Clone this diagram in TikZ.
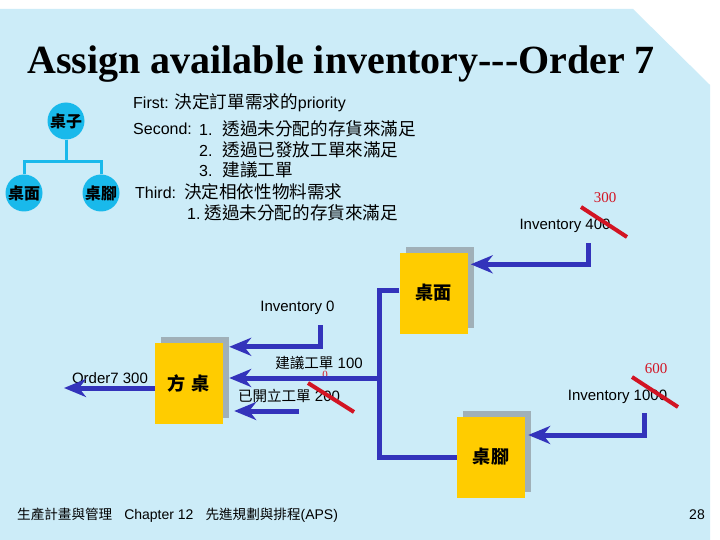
\documentclass[tikz,border=0pt]{standalone}
\usepackage{fontspec}
\setmainfont{Liberation Sans}
\newfontfamily\zhfont[Scale=1.1]{Noto Sans CJK TC}
\newfontfamily\zhsmall[Scale=0.97]{Noto Sans CJK TC}
\newfontfamily\titlefont{Liberation Serif}
\newcommand{\zh}[1]{{\zhfont #1}}
\newcommand{\zhs}[1]{{\zhsmall #1}}
\usetikzlibrary{arrows.meta,shadows}

\definecolor{bgblue}{RGB}{204,236,248}
\definecolor{boxyellow}{RGB}{255,204,0}
\definecolor{shadowgray}{RGB}{160,176,184}
\definecolor{flowblue}{RGB}{51,51,187}
\definecolor{strikered}{RGB}{210,20,35}
\definecolor{treecyan}{RGB}{25,185,235}

\begin{document}
\begin{tikzpicture}
  [x=1pt,y=-1pt,
   lbl/.style={inner sep=0pt,font=\fontsize{15}{17}\selectfont},
   txt/.style={inner sep=0pt,anchor=west,font=\fontsize{16}{18}\selectfont},
   redno/.style={inner sep=0pt,text=strikered,font=\titlefont\fontsize{15}{17}\selectfont},
   strike/.style={strikered,line width=4pt},
   part/.style={rectangle,fill=boxyellow,minimum width=68pt,minimum height=81pt,
     general shadow={fill=shadowgray,shadow xshift=6pt,shadow yshift=6pt},
     font=\zhfont\bfseries\fontsize{16.5}{19}\selectfont},
   flow/.style={flowblue,line width=5pt,-{Stealth[length=22pt,width=18pt,inset=7pt]}},
   pipe/.style={flowblue,line width=5pt},
   treenode/.style={circle,fill=treecyan,minimum size=37pt,inner sep=0pt,
     font=\zhfont\bfseries\fontsize{14.5}{16}\selectfont},
   treeline/.style={treecyan,line width=3pt}]

  % slide background
  \useasboundingbox (0,0) rectangle (720,540);
  \fill[white] (0,0) rectangle (720,540);
  \fill[bgblue] (0,9) -- (633,9) -- (710,85) -- (710,540) -- (0,540) -- cycle;

  \node[inner sep=0pt,anchor=base west,font=\titlefont\bfseries\fontsize{40}{44}\selectfont]
    (title) at (27,74) {Assign available inventory---Order 7};

  % product tree
  \node[treenode] (zi) at (66,121) {桌子};
  \node[treenode] (tm) at (24,193) {桌面};
  \node[treenode] (tj) at (101,193) {桌腳};
  \coordinate (fork) at (66,162);
  \draw[treeline] (zi) -- (fork);
  \foreach \to in {tm,tj}
    \draw[treeline] (fork) -| (\to);

  % rules
  \node[txt] (first)  at (133,103) {First: \zh{決定訂單需求的}priority};
  \node[txt] (second) at (133,129) {Second:};
  \node[txt] (s1)     at (199,129) {1.\hspace{10pt}\zh{透過未分配的存貨來滿足}};
  \node[txt] (s2)     at (199,150) {2.\hspace{10pt}\zh{透過已發放工單來滿足}};
  \node[txt] (s3)     at (199,170) {3.\hspace{10pt}\zh{建議工單}};
  \node[txt] (third)  at (135,192) {Third:\hspace{8pt}\zh{決定相依性物料需求}};
  \node[txt] (t1)     at (187,213) {1.\hspace{4pt}\zh{透過未分配的存貨來滿足}};

  % parts
  \node[part] (mian) at (433.5,293) {桌面};
  \node[part] (fang) at (189,383.5) {方\hspace{6pt}桌};
  \node[part] (jiao) at (491,457) {桌腳};

  % labels
  \node[lbl] (inv400)  at (565,226) {Inventory 400};
  \node[redno] (n300)  at (605,198) {300};
  \node[lbl] (inv0)    at (297.5,308) {Inventory 0};
  \node[lbl] (sug)     at (319,363) {\zhs{建議工單} 100};
  \node[redno,font=\titlefont\fontsize{11}{12}\selectfont] (n0) at (325,375) {0};
  \node[lbl] (open)    at (289,396) {\zhs{已開立工單} 200};
  \node[lbl] (ord7)    at (110,378) {Order7 300};
  \node[redno] (n600)  at (656,369) {600};
  \node[lbl] (inv1000) at (617.5,397) {Inventory 1000};

  % flows
  \coordinate (c400)  at (588,243);
  \coordinate (c0)    at (320,325);
  \coordinate (split) at (379,378);
  \coordinate (c200)  at (299,411);
  \coordinate (c1000) at (644,413);
  \coordinate (out)   at (64,388);

  \draw[flow,shorten >=3pt] (c400) |- ([yshift=-12pt]mian.north east);
  \draw[flow,shorten >=6pt] (c0) |- ([yshift=-4pt]fang.north east);
  \draw[pipe] ([yshift=3pt]mian.west) -| (split) |- (jiao.west);
  \draw[flow,shorten >=6pt] (split) -- (split -| fang.east);
  \draw[flow,shorten >=11pt] (c200) -- (c200 -| fang.east);
  \draw[flow,shorten >=3pt] (c1000) |- ([yshift=22pt]jiao.east);
  \draw[flow] (fang.west |- out) -- (out);

  % crossed-out values
  \draw[strike] (581,207) -- (627,237);
  \draw[strike] (308,383) -- (354,412);
  \draw[strike] (632,377) -- (678,407);

  % footer
  \node[inner sep=0pt,anchor=west,font=\fontsize{14}{16}\selectfont] (foot) at (17,515)
    {\zhs{生產計畫與管理}\hspace{12pt}Chapter 12\hspace{12pt}\zhs{先進規劃與排程}(APS)};
  \node[inner sep=0pt,anchor=east,font=\fontsize{14}{16}\selectfont] (page) at (705,515) {28};
\end{tikzpicture}
\end{document}
